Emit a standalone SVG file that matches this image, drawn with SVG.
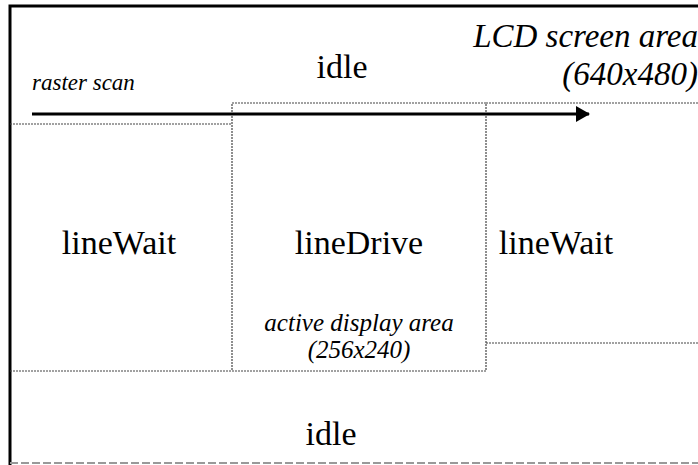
<svg xmlns="http://www.w3.org/2000/svg" width="698" height="465" viewBox="0 0 698 465">
<style>
.t{font-family:"Liberation Serif","Times New Roman",serif;fill:#000}
.r{font-size:34px}
.i{font-style:italic}
.thin{fill:none;stroke:#444;stroke-width:1.2;stroke-dasharray:2 1}
.frame{fill:none;stroke:#000;stroke-width:3}
</style>
<defs>
<marker id="ah" markerWidth="14" markerHeight="16" refX="13" refY="8" orient="auto" markerUnits="userSpaceOnUse">
<path d="M0,0 L14,8 L0,16 Z" fill="#000"/>
</marker>
</defs>
<rect width="698" height="465" fill="#fff"/>
<g id="frame">
<path class="frame" d="M10,465 V6 H698"/>
<line x1="10" y1="463" x2="698" y2="463" stroke="#999" stroke-width="2" stroke-dasharray="8 3"/>
</g>
<g id="idle-top">
<text class="t r" x="342" y="78" text-anchor="middle">idle</text>
</g>
<g id="lcd-label">
<text class="t i" font-size="33" x="698" y="47" text-anchor="end">LCD screen area</text>
<text class="t i" font-size="33" x="698" y="85" text-anchor="end">(640x480)</text>
</g>
<g id="lineWait-left">
<path class="thin" d="M10,124 H232"/>
<text class="t r" x="119" y="254" text-anchor="middle">lineWait</text>
</g>
<g id="lineDrive">
<rect class="thin" x="232" y="103" width="254" height="268"/>
<text class="t r" x="359" y="254" text-anchor="middle">lineDrive</text>
<text class="t i" font-size="25" x="359" y="331" text-anchor="middle">active display area</text>
<text class="t i" font-size="25" x="359" y="358" text-anchor="middle">(256x240)</text>
</g>
<g id="lineWait-right">
<path class="thin" d="M486,103 H698 M486,343 H698"/>
<text class="t r" x="556" y="254" text-anchor="middle">lineWait</text>
</g>
<g id="idle-bottom">
<path class="thin" d="M10,371 H232"/>
<text class="t r" x="331" y="445" text-anchor="middle">idle</text>
</g>
<g id="connectors">
<text class="t i" font-size="23" x="32" y="90">raster scan</text>
<line x1="32" y1="114" x2="589" y2="114" stroke="#000" stroke-width="3" marker-end="url(#ah)"/>
</g>
</svg>
